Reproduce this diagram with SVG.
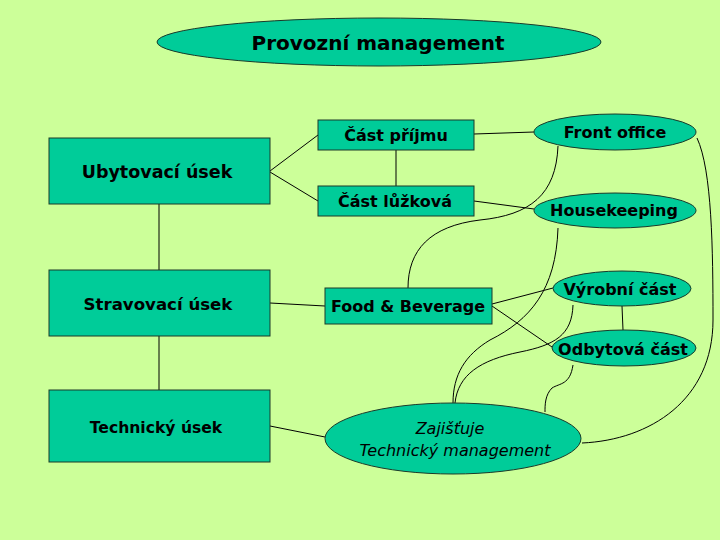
<svg xmlns="http://www.w3.org/2000/svg" width="720" height="540" viewBox="0 0 720 540">
<style>
.bg{fill:#CCFF99}
.n{fill:#00CC99;stroke:#1a3a2a;stroke-width:1}
.t{font-family:"DejaVu Sans",Verdana,sans-serif;font-weight:bold;fill:#000;text-anchor:middle}
.i{font-family:"DejaVu Sans",Verdana,sans-serif;font-style:italic;fill:#000;text-anchor:middle;font-size:16px}
.c{fill:none;stroke:#000;stroke-width:1}
</style>
<rect class="bg" x="0" y="0" width="720" height="540"/>
<g id="connectors">
<line class="c" x1="159" y1="204" x2="159" y2="270"/>
<line class="c" x1="159" y1="336" x2="159" y2="390"/>
<line class="c" x1="270" y1="171" x2="318" y2="135"/>
<line class="c" x1="270" y1="172" x2="318" y2="201"/>
<line class="c" x1="396" y1="150" x2="396" y2="186"/>
<line class="c" x1="270" y1="303" x2="325" y2="306"/>
<line class="c" x1="270" y1="426" x2="325" y2="437"/>
<line class="c" x1="474" y1="134" x2="534" y2="132"/>
<line class="c" x1="474" y1="201" x2="534" y2="209"/>
<line class="c" x1="492" y1="304" x2="553" y2="288"/>
<line class="c" x1="492" y1="306" x2="552" y2="347"/>
<line class="c" x1="622" y1="306" x2="623" y2="330"/>
<path class="c" d="M558,146 C556,195 530,215 480,220 C430,226 408,250 408,288"/>
<path class="c" d="M558,228 C556,290 530,320 490,340 C465,355 453,375 453,403"/>
<path class="c" d="M573,305 C572,335 555,345 520,352 C480,360 458,375 455,403"/>
<path class="c" d="M573,365 C570,385 560,383 552,388 C545,395 545,405 545,412"/>
<path class="c" d="M697,138 C712,170 713,250 713,320 C713,400 650,440 582,443"/>
</g>
<g id="provozni"><ellipse class="n" cx="379" cy="42" rx="222" ry="24"/><text class="t" x="378" y="50" font-size="20">Provozní management</text></g>
<g id="ubytovaci"><rect class="n" x="49" y="138" width="221" height="66"/><text class="t" x="157" y="178" font-size="17.5">Ubytovací úsek</text></g>
<g id="stravovaci"><rect class="n" x="49" y="270" width="221" height="66"/><text class="t" x="158" y="310" font-size="16.6">Stravovací úsek</text></g>
<g id="technicky"><rect class="n" x="49" y="390" width="221" height="72"/><text class="t" x="156" y="433" font-size="15.6">Technický úsek</text></g>
<g id="prijem"><rect class="n" x="318" y="120" width="156" height="30"/><text class="t" x="396" y="141" font-size="16">Část příjmu</text></g>
<g id="luzkova"><rect class="n" x="318" y="186" width="156" height="30"/><text class="t" x="395" y="207" font-size="16">Část lůžková</text></g>
<g id="fb"><rect class="n" x="325" y="288" width="167" height="36"/><text class="t" x="408" y="312" font-size="16">Food &amp; Beverage</text></g>
<g id="front"><ellipse class="n" cx="615" cy="132" rx="81" ry="18"/><text class="t" x="615" y="138" font-size="16">Front office</text></g>
<g id="housekeeping"><ellipse class="n" cx="615" cy="210.5" rx="81" ry="17.5"/><text class="t" x="614" y="216" font-size="16">Housekeeping</text></g>
<g id="vyrobni"><ellipse class="n" cx="622" cy="288.5" rx="69" ry="17.5"/><text class="t" x="620" y="295" font-size="16">Výrobní část</text></g>
<g id="odbytova"><ellipse class="n" cx="624" cy="348" rx="72" ry="18"/><text class="t" x="623" y="355" font-size="16">Odbytová část</text></g>
<g id="zajistuje"><ellipse class="n" cx="453" cy="438.5" rx="128" ry="35.5"/><text class="i" x="450" y="434">Zajišťuje</text><text class="i" x="455" y="456">Technický management</text></g>
</svg>
